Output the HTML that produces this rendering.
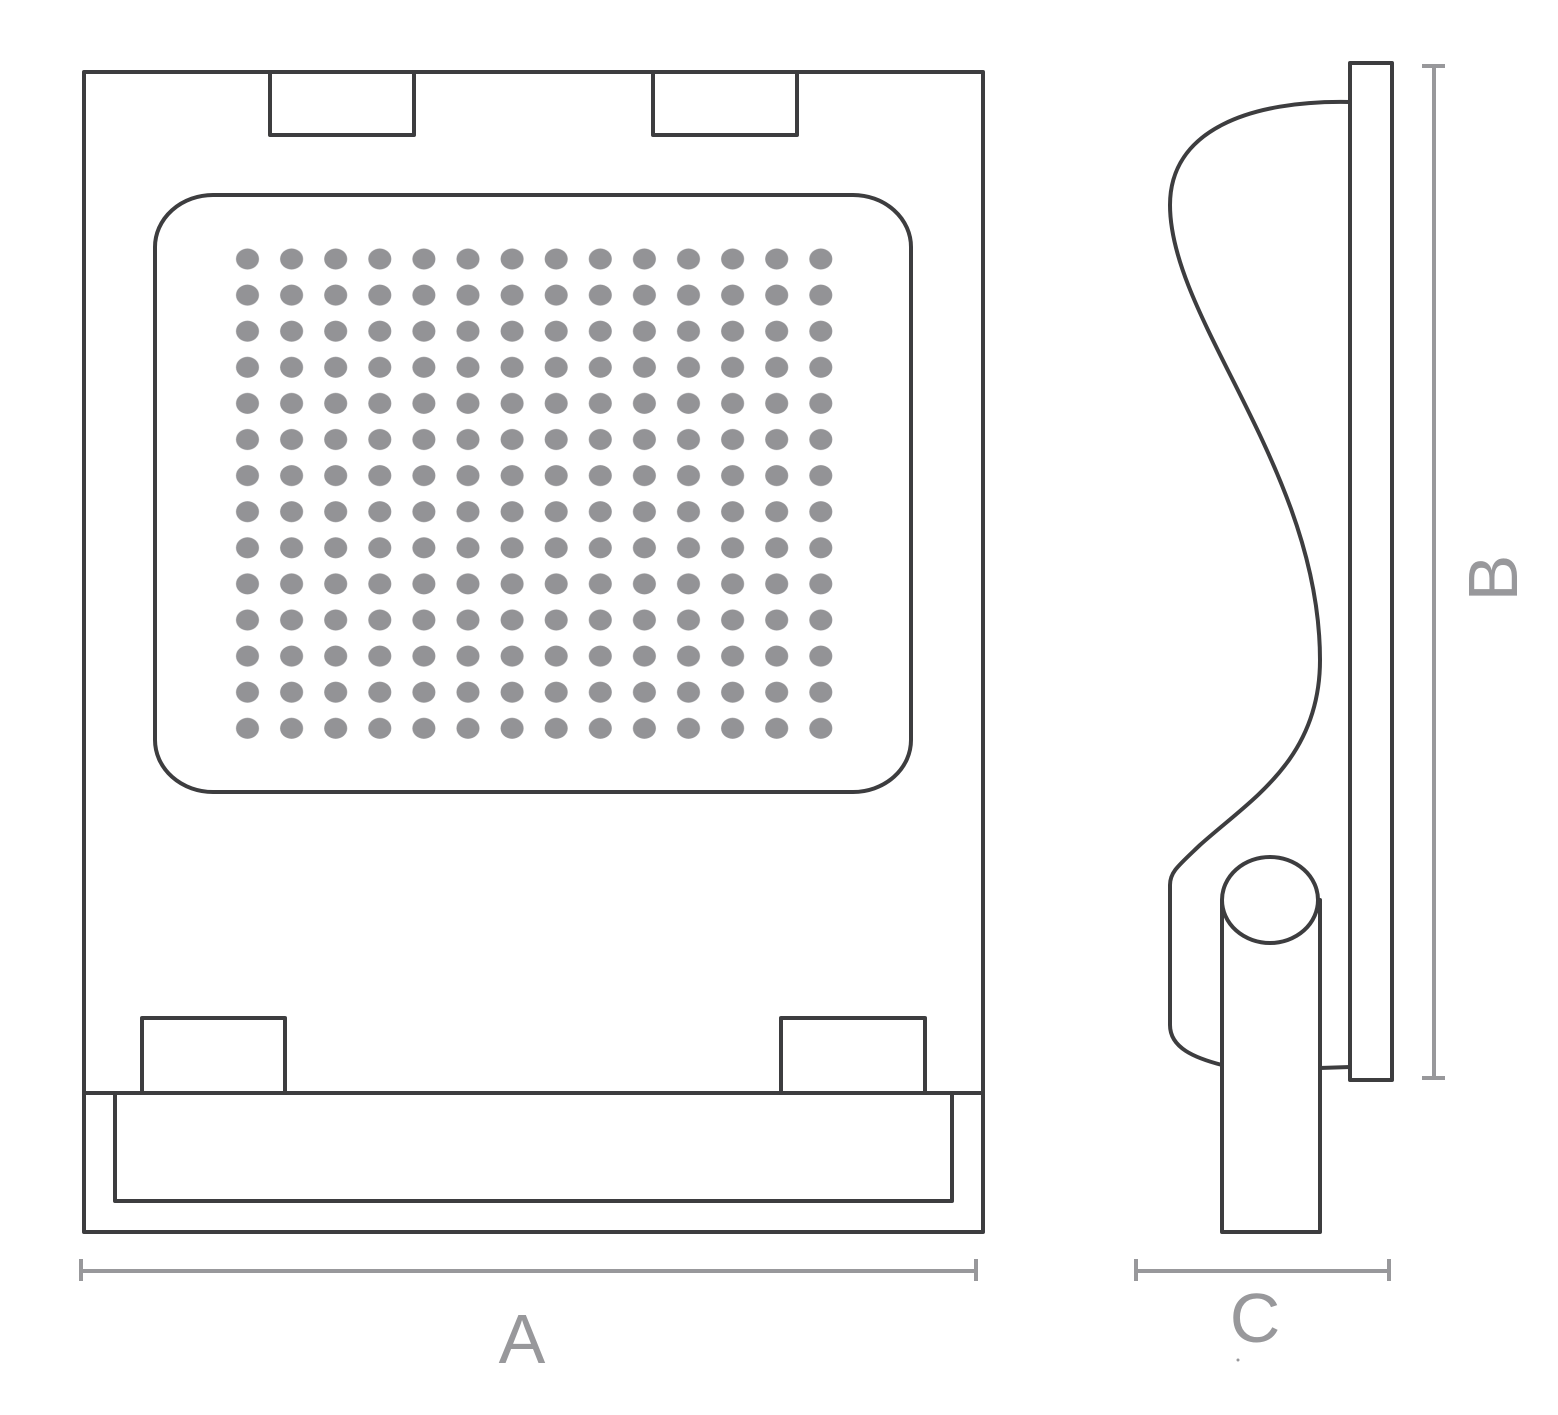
<!DOCTYPE html>
<html><head><meta charset="utf-8"><style>html,body{margin:0;padding:0;background:#fff}svg{display:block}</style></head>
<body>
<svg width="1558" height="1415" viewBox="0 0 1558 1415" xmlns="http://www.w3.org/2000/svg">
<defs>
<pattern id="dp" patternUnits="userSpaceOnUse" x="225.45" y="240.95" width="44.1" height="36.1">
<ellipse cx="22.05" cy="18.05" rx="11.5" ry="10.5" fill="#939396"/>
</pattern>
</defs>
<g fill="none" stroke="#3d3d3f" stroke-width="4" stroke-linejoin="round">
<rect x="84" y="72" width="899" height="1160"/>
<rect x="270" y="72" width="144" height="63"/>
<rect x="653" y="72" width="144" height="63"/>
<path d="M213,195 H853 A58,52 0 0 1 911,247 V740 A58,52 0 0 1 853,792 H213 A58,52 0 0 1 155,740 V247 A58,52 0 0 1 213,195 Z"/>
<line x1="84" y1="1093" x2="983" y2="1093"/>
<rect x="115" y="1093" width="837" height="108"/>
<rect x="142" y="1018" width="143" height="75"/>
<rect x="781" y="1018" width="144" height="75"/>
<rect x="1350" y="63" width="42" height="1017"/>
<path d="M1350,102 C1250,100 1170,130 1170,205 C1170,320 1320,470 1320,660 C1320,760 1250,800 1200,845 C1178,866 1170,872 1170,885 L1170,1025 C1170,1048 1195,1058 1222,1065"/>
<path d="M1320,1068 L1350,1067"/>
<rect x="1222" y="900" width="98" height="332"/>
<ellipse cx="1270" cy="900" rx="48" ry="43" fill="#fff"/>
</g>
<rect x="225.45" y="240.95" width="617.4" height="505.4" fill="url(#dp)"/>
<g stroke="#98989b" stroke-width="4" fill="none">
<line x1="81" y1="1271" x2="976" y2="1271"/><line x1="81" y1="1259" x2="81" y2="1281"/><line x1="976" y1="1259" x2="976" y2="1281"/>
<line x1="1136" y1="1271" x2="1389" y2="1271"/><line x1="1136" y1="1259" x2="1136" y2="1281"/><line x1="1389" y1="1259" x2="1389" y2="1281"/>
<line x1="1434" y1="66" x2="1434" y2="1078"/><line x1="1422" y1="66" x2="1445" y2="66"/><line x1="1422" y1="1078" x2="1445" y2="1078"/>
</g>
<g fill="#98989b" font-family="Liberation Sans, sans-serif" font-size="70" text-anchor="middle">
<text x="522" y="1363">A</text>
<text x="1255" y="1342">C</text>
<text transform="translate(1517,578) rotate(-90)" x="0" y="0">B</text>
</g>
<circle cx="1238" cy="1360" r="1.5" fill="#98989b"/>
</svg>
</body></html>
